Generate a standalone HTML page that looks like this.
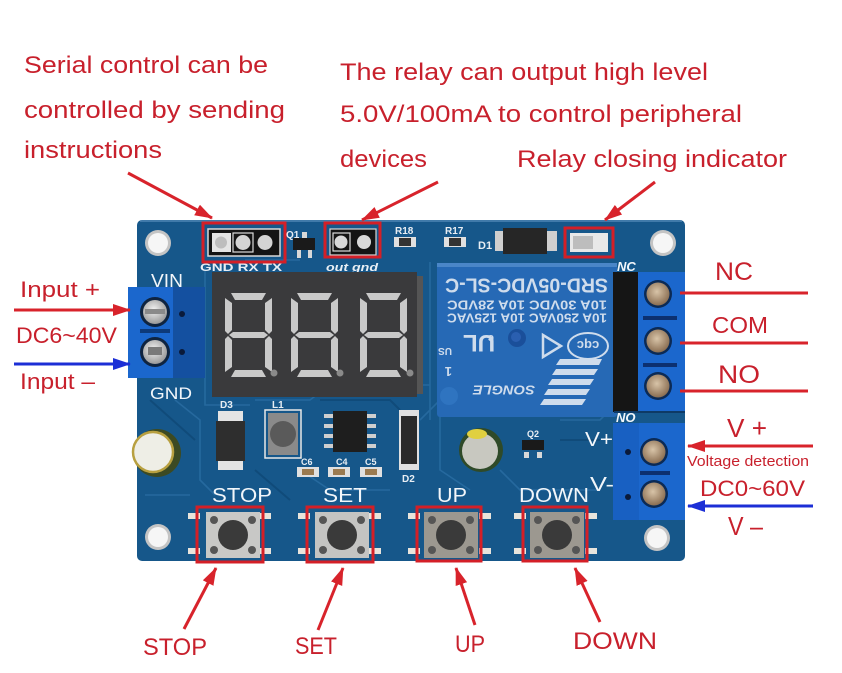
<!DOCTYPE html>
<html><head><meta charset="utf-8">
<style>
html,body{margin:0;padding:0;background:#fff;}
svg{display:block;}
text{font-family:"Liberation Sans",Arial,sans-serif;}
</style></head><body>
<svg width="842" height="673" viewBox="0 0 842 673" xmlns="http://www.w3.org/2000/svg">
<defs>
<marker id="ar" viewBox="0 0 18 12" refX="17" refY="6" markerWidth="18" markerHeight="12" orient="auto" markerUnits="userSpaceOnUse"><path d="M0,0 L18,6 L0,12 z" fill="#d8232b"/></marker>
<marker id="ab" viewBox="0 0 18 12" refX="17" refY="6" markerWidth="18" markerHeight="12" orient="auto" markerUnits="userSpaceOnUse"><path d="M0,0 L18,6 L0,12 z" fill="#1c2fd6"/></marker>
<radialGradient id="scrS" cx="0.45" cy="0.4" r="0.6"><stop offset="0" stop-color="#f2f2f2"/><stop offset="1" stop-color="#9a9a9a"/></radialGradient>
<radialGradient id="scrB" cx="0.45" cy="0.4" r="0.6"><stop offset="0" stop-color="#d8c4a8"/><stop offset="1" stop-color="#8a6e52"/></radialGradient>
<g id="dig" fill="#c9c9c9">
<polygon points="6,0 41,0 37,7 10,7"/>
<polygon points="0,5 7,10 7,37 3,41 0,38"/>
<polygon points="47,5 47,38 44,41 40,37 40,10"/>
<polygon points="8,39 39,39 43,42 39,45 8,45 4,42"/>
<polygon points="0,46 3,43 7,47 7,74 0,79"/>
<polygon points="47,46 47,79 40,74 40,47 44,43"/>
<polygon points="10,77 37,77 41,84 6,84"/>
</g>
<g id="btn">
<rect x="-10" y="6" width="12" height="6" fill="#e8e4dc"/>
<rect x="-10" y="41" width="12" height="6" fill="#e8e4dc"/>
<rect x="61" y="6" width="12" height="6" fill="#e8e4dc"/>
<rect x="61" y="41" width="12" height="6" fill="#e8e4dc"/>
</g>
</defs>

<!-- board -->
<rect x="137" y="220" width="548" height="341" rx="5" fill="#16578a"/>
<line x1="140" y1="221" x2="682" y2="221" stroke="#4f86b4" stroke-width="1.5"/>
<g fill="none" stroke="#2a6ea4" stroke-width="1.6" opacity="0.8">
<path d="M205 262 L205 405 L250 405"/>
<path d="M175 400 L200 420 L200 480 L215 495"/>
<path d="M255 400 L310 400 L330 385 L430 385"/>
<path d="M300 470 L330 490 L390 490"/>
<path d="M420 420 L440 400 L440 470 L470 490"/>
<path d="M500 470 L520 490 L600 490"/>
<path d="M245 260 L300 260"/>
<path d="M430 262 L430 420"/>
<path d="M560 420 L600 420 L610 410"/>
<path d="M145 495 L190 495"/>
</g>
<g fill="none" stroke="#0e4674" stroke-width="2" opacity="0.7">
<path d="M150 400 L195 440"/>
<path d="M320 400 L390 400 L400 410"/>
<path d="M255 470 L290 500"/>
<path d="M560 440 L600 440"/>
</g>

<!-- mounting holes -->
<g>
<circle cx="158" cy="243" r="13" fill="#c4c4c4"/><circle cx="158" cy="243" r="10" fill="#f6f6f6"/>
<circle cx="663" cy="243" r="13" fill="#c4c4c4"/><circle cx="663" cy="243" r="10" fill="#f6f6f6"/>
<circle cx="158" cy="537" r="13" fill="#c4c4c4"/><circle cx="158" cy="537" r="10" fill="#f6f6f6"/>
<circle cx="657" cy="538" r="13" fill="#c4c4c4"/><circle cx="657" cy="538" r="10" fill="#f6f6f6"/>
</g>

<!-- serial header -->
<rect x="208" y="229" width="72" height="27" fill="#141414" stroke="#d8d8d8" stroke-width="1.5"/>
<rect x="212" y="233" width="19" height="19" fill="#e4e4e4"/>
<circle cx="221" cy="242.5" r="6" fill="#bdbdbd"/>
<rect x="233" y="233" width="20" height="19" fill="none" stroke="#dcdcdc" stroke-width="1.2"/>
<circle cx="243" cy="242.5" r="7.5" fill="#d4d4d4"/>
<circle cx="265" cy="242.5" r="7.5" fill="#d4d4d4"/>
<text x="200" y="271" font-size="11" font-weight="bold" fill="#e8eef4" textLength="82" lengthAdjust="spacingAndGlyphs">GND RX TX</text>
<rect x="203" y="223" width="82" height="39" fill="none" stroke="#d41f27" stroke-width="3"/>

<!-- Q1 -->
<text x="286" y="238" font-size="10" font-weight="bold" fill="#e8eef4">Q1</text>
<rect x="293" y="238" width="22" height="12" fill="#1a1a1a"/>
<rect x="297" y="250" width="4" height="8" fill="#d8d8d8"/><rect x="308" y="250" width="4" height="8" fill="#d8d8d8"/>
<rect x="302" y="232" width="5" height="6" fill="#d8d8d8"/>

<!-- out header -->
<rect x="330" y="229" width="46" height="26" fill="#141414" stroke="#d8d8d8" stroke-width="1.2"/>
<rect x="333" y="233" width="17" height="18" fill="none" stroke="#dcdcdc" stroke-width="1.2"/>
<circle cx="341" cy="242" r="6.5" fill="#d8d8d8"/>
<circle cx="364" cy="242" r="7" fill="#d8d8d8"/>
<text x="326" y="271" font-size="11" font-style="italic" font-weight="bold" fill="#e8eef4" textLength="52" lengthAdjust="spacingAndGlyphs">out gnd</text>
<rect x="325" y="223" width="55" height="34" fill="none" stroke="#d41f27" stroke-width="3"/>

<!-- R18 R17 -->
<text x="395" y="234" font-size="10" font-weight="bold" fill="#e8eef4">R18</text>
<rect x="394" y="237" width="22" height="10" fill="#e0e0e0"/><rect x="399" y="238" width="12" height="8" fill="#333"/>
<text x="445" y="234" font-size="10" font-weight="bold" fill="#e8eef4">R17</text>
<rect x="444" y="237" width="22" height="10" fill="#e0e0e0"/><rect x="449" y="238" width="12" height="8" fill="#333"/>
<!-- D1 -->
<text x="478" y="249" font-size="11" font-weight="bold" fill="#e8eef4">D1</text>
<rect x="495" y="231" width="62" height="20" fill="#cfcfcf"/>
<rect x="503" y="228" width="44" height="26" fill="#262626"/>
<!-- LED -->
<rect x="570" y="233" width="38" height="19" fill="#e8e8e8"/>
<rect x="573" y="236" width="20" height="13" fill="#bdbdbd"/>
<rect x="565" y="228" width="48" height="29" fill="none" stroke="#d41f27" stroke-width="3"/>

<!-- left terminal -->
<rect x="170" y="287" width="35" height="91" fill="#1450a0"/>
<rect x="128" y="287" width="45" height="91" fill="#1b67cd"/>
<circle cx="182" cy="314" r="3" fill="#0a1a3a"/><circle cx="182" cy="352" r="3" fill="#0a1a3a"/>
<rect x="140" y="329" width="30" height="4" fill="#0d3a7a"/>
<circle cx="155" cy="312" r="15" fill="#0f2440"/><circle cx="155" cy="312" r="12" fill="url(#scrS)"/>
<rect x="145" y="309" width="20" height="5" fill="#8a8a8a"/>
<circle cx="155" cy="352" r="15" fill="#0f2440"/><circle cx="155" cy="352" r="12" fill="url(#scrS)"/>
<rect x="148" y="347" width="14" height="8" fill="#7a7a7a"/>
<text x="151" y="287" font-size="18" fill="#f2f6fa" textLength="32" lengthAdjust="spacingAndGlyphs">VIN</text>
<text x="150" y="399" font-size="17" fill="#f2f6fa" textLength="42" lengthAdjust="spacingAndGlyphs">GND</text>

<!-- display -->
<rect x="212" y="272" width="205" height="125" fill="#3a3a3c"/>
<rect x="417" y="276" width="6" height="118" fill="#555"/>
<use href="#dig" x="225" y="293"/>
<use href="#dig" x="291" y="293"/>
<use href="#dig" x="360" y="293"/>
<circle cx="274" cy="373" r="3.5" fill="#8a8a8a"/>
<circle cx="340" cy="373" r="3.5" fill="#8a8a8a"/>
<circle cx="410" cy="373" r="3.5" fill="#8a8a8a"/>

<!-- relay -->
<rect x="437" y="263" width="180" height="154" rx="3" fill="#2669b5"/>
<rect x="437" y="263" width="180" height="4" fill="#4a86c8"/>
<circle cx="517" cy="338" r="9" fill="#1a4f9a"/><circle cx="516" cy="337" r="5" fill="#2a5fb0"/>
<circle cx="449" cy="396" r="9" fill="#2f74c0"/>
<g transform="rotate(180 527 340)" fill="#cfdcec" font-weight="bold">
<text x="527.5" y="401.5" font-size="20" text-anchor="middle" textLength="163" lengthAdjust="spacingAndGlyphs">SRD-05VDC-SL-C</text>
<text x="527" y="379.5" font-size="12.5" text-anchor="middle" textLength="160" lengthAdjust="spacingAndGlyphs">10A 30VDC 10A 28VDC</text>
<text x="527" y="366.5" font-size="12.5" text-anchor="middle" textLength="160" lengthAdjust="spacingAndGlyphs">10A 250VAC 10A 125VAC</text>
<text x="550" y="294.5" font-size="13" font-style="italic" font-family="Liberation Serif, serif" text-anchor="middle" textLength="62" lengthAdjust="spacingAndGlyphs">SONGLE</text>
<text x="575" y="345" font-size="24" text-anchor="middle">UL</text>
<text x="560" y="345" font-size="11">c</text>
<text x="602" y="332" font-size="10">US</text>
<text x="602" y="313" font-size="13">1</text>
</g>
<ellipse cx="588" cy="346" rx="20" ry="13" fill="none" stroke="#cfdcec" stroke-width="2"/>
<text x="588" y="351" font-size="13" font-weight="bold" fill="#cfdcec" text-anchor="middle" transform="rotate(180 588 346)">cqc</text>
<polygon points="543,335 543,357 561,346" fill="none" stroke="#cfdcec" stroke-width="2.5"/>
<g fill="#cfdcec">
<polygon points="560,359 602,359 599,365 556,365"/>
<polygon points="556,369 598,369 594,375 552,375"/>
<polygon points="552,379 594,379 590,385 548,385"/>
<polygon points="548,389 590,389 586,395 544,395"/>
<polygon points="544,399 586,399 582,405 540,405"/>
</g>

<!-- relay terminal -->
<rect x="613" y="272" width="30" height="140" fill="#151515"/>
<rect x="638" y="272" width="47" height="140" fill="#1b67cd"/>
<rect x="643" y="316" width="34" height="4" fill="#0c3070"/>
<rect x="643" y="363" width="34" height="4" fill="#0c3070"/>
<circle cx="658" cy="294" r="14" fill="#0b2a55"/><circle cx="658" cy="294" r="11.5" fill="url(#scrB)"/>
<circle cx="658" cy="341" r="14" fill="#0b2a55"/><circle cx="658" cy="341" r="11.5" fill="url(#scrB)"/>
<circle cx="658" cy="386" r="14" fill="#0b2a55"/><circle cx="658" cy="386" r="11.5" fill="url(#scrB)"/>
<text x="617" y="271" font-size="13" font-style="italic" font-weight="bold" fill="#f2f6fa">NC</text>
<text x="616" y="422" font-size="13" font-style="italic" font-weight="bold" fill="#f2f6fa">NO</text>
<line x1="614" y1="412" x2="685" y2="412" stroke="#0e3a66" stroke-width="2"/>

<!-- voltage terminal -->
<rect x="613" y="423" width="72" height="97" fill="#1b67cd"/>
<rect x="613" y="423" width="26" height="97" fill="#1860c2"/>
<circle cx="628" cy="452" r="3" fill="#0a1a3a"/><circle cx="628" cy="497" r="3" fill="#0a1a3a"/>
<rect x="640" y="471" width="30" height="4" fill="#0c3070"/>
<circle cx="654" cy="452" r="14" fill="#0b2a55"/><circle cx="654" cy="452" r="11.5" fill="url(#scrB)"/>
<circle cx="654" cy="494" r="14" fill="#0b2a55"/><circle cx="654" cy="494" r="11.5" fill="url(#scrB)"/>
<text x="585" y="446" font-size="20" fill="#f2f6fa" textLength="28" lengthAdjust="spacingAndGlyphs">V+</text>
<text x="590" y="491" font-size="20" fill="#f2f6fa" textLength="24" lengthAdjust="spacingAndGlyphs">V-</text>

<!-- lower components -->
<circle cx="157" cy="453" r="24" fill="#3c4a22"/>
<circle cx="153" cy="452" r="20" fill="#eeeee6" stroke="#b8a040" stroke-width="2.5"/>
<text x="220" y="408" font-size="10" font-weight="bold" fill="#e8eef4">D3</text>
<rect x="218" y="411" width="25" height="12" fill="#e4e4e4"/>
<rect x="218" y="459" width="25" height="11" fill="#e4e4e4"/>
<rect x="216" y="421" width="29" height="40" fill="#2e2e2e"/>
<text x="272" y="408" font-size="10" font-weight="bold" fill="#e8eef4">L1</text>
<rect x="265" y="410" width="36" height="48" fill="none" stroke="#e8e8e8" stroke-width="1.5"/>
<rect x="268" y="413" width="30" height="42" fill="#8a8a8a"/>
<circle cx="283" cy="434" r="13" fill="#5a5a5a"/>
<g fill="#cfcfcf">
<rect x="324" y="414" width="9" height="4"/><rect x="324" y="424" width="9" height="4"/><rect x="324" y="434" width="9" height="4"/><rect x="324" y="444" width="9" height="4"/>
<rect x="367" y="414" width="9" height="4"/><rect x="367" y="424" width="9" height="4"/><rect x="367" y="434" width="9" height="4"/><rect x="367" y="444" width="9" height="4"/>
</g>
<rect x="333" y="411" width="34" height="41" fill="#1e1e1e"/>
<text x="301" y="465" font-size="9" font-weight="bold" fill="#e8eef4">C6</text>
<text x="336" y="465" font-size="9" font-weight="bold" fill="#e8eef4">C4</text>
<text x="365" y="465" font-size="9" font-weight="bold" fill="#e8eef4">C5</text>
<g fill="#e0e0e0">
<rect x="297" y="467" width="22" height="10"/><rect x="328" y="467" width="22" height="10"/><rect x="360" y="467" width="22" height="10"/>
</g>
<g fill="#9a7a50">
<rect x="302" y="469" width="12" height="6"/><rect x="333" y="469" width="12" height="6"/><rect x="365" y="469" width="12" height="6"/>
</g>
<rect x="399" y="410" width="20" height="60" fill="#e0e0e0"/>
<rect x="401" y="416" width="16" height="48" fill="#2a2a2a"/>
<text x="402" y="482" font-size="10" font-weight="bold" fill="#e8eef4">D2</text>
<circle cx="481" cy="450" r="22" fill="#2f4a28"/>
<circle cx="480" cy="451" r="18" fill="#c8c8c0"/>
<ellipse cx="477" cy="434" rx="10" ry="5" fill="#e0d040"/>
<text x="527" y="437" font-size="9" font-weight="bold" fill="#e8eef4">Q2</text>
<rect x="522" y="440" width="22" height="10" fill="#1a1a1a"/>
<rect x="524" y="452" width="5" height="6" fill="#d8d8d8"/><rect x="537" y="452" width="5" height="6" fill="#d8d8d8"/>

<!-- button labels on board -->
<text x="212" y="502" font-size="20" fill="#f2f6fa" textLength="60" lengthAdjust="spacingAndGlyphs">STOP</text>
<text x="323" y="502" font-size="20" fill="#f2f6fa" textLength="44" lengthAdjust="spacingAndGlyphs">SET</text>
<text x="437" y="502" font-size="20" fill="#f2f6fa" textLength="30" lengthAdjust="spacingAndGlyphs">UP</text>
<text x="519" y="502" font-size="20" fill="#f2f6fa" textLength="70" lengthAdjust="spacingAndGlyphs">DOWN</text>

<!-- buttons -->
<g>
<use href="#btn" x="198" y="507"/>
<rect x="206" y="512" width="54" height="46" fill="#c8c8c6"/>
<circle cx="233" cy="535" r="15" fill="#3a3a3a"/>
<g fill="#555"><circle cx="214" cy="520" r="4"/><circle cx="252" cy="520" r="4"/><circle cx="214" cy="550" r="4"/><circle cx="252" cy="550" r="4"/></g>
<rect x="197" y="507" width="66" height="55" fill="none" stroke="#d41f27" stroke-width="3"/>
</g>
<g>
<use href="#btn" x="308" y="507"/>
<rect x="315" y="512" width="54" height="46" fill="#c4c4c2"/>
<circle cx="342" cy="535" r="15" fill="#3a3a3a"/>
<g fill="#555"><circle cx="323" cy="520" r="4"/><circle cx="361" cy="520" r="4"/><circle cx="323" cy="550" r="4"/><circle cx="361" cy="550" r="4"/></g>
<rect x="307" y="507" width="66" height="55" fill="none" stroke="#d41f27" stroke-width="3"/>
</g>
<g>
<use href="#btn" x="418" y="507"/>
<rect x="424" y="512" width="54" height="46" fill="#9c9890"/>
<circle cx="451" cy="535" r="15" fill="#3a3a3a"/>
<g fill="#555"><circle cx="432" cy="520" r="4"/><circle cx="470" cy="520" r="4"/><circle cx="432" cy="550" r="4"/><circle cx="470" cy="550" r="4"/></g>
<rect x="417" y="507" width="64" height="54" fill="none" stroke="#d41f27" stroke-width="3"/>
</g>
<g>
<use href="#btn" x="524" y="507"/>
<rect x="530" y="512" width="54" height="46" fill="#9c9890"/>
<circle cx="557" cy="535" r="15" fill="#3a3a3a"/>
<g fill="#555"><circle cx="538" cy="520" r="4"/><circle cx="576" cy="520" r="4"/><circle cx="538" cy="550" r="4"/><circle cx="576" cy="550" r="4"/></g>
<rect x="523" y="507" width="64" height="54" fill="none" stroke="#d41f27" stroke-width="3"/>
</g>

<!-- annotation text -->
<g fill="#c8202c">
<text x="24" y="73" font-size="24" textLength="244" lengthAdjust="spacingAndGlyphs">Serial control can be</text>
<text x="24" y="118" font-size="24" textLength="261" lengthAdjust="spacingAndGlyphs">controlled by sending</text>
<text x="24" y="158" font-size="24" textLength="138" lengthAdjust="spacingAndGlyphs">instructions</text>
<text x="340" y="80" font-size="24" textLength="368" lengthAdjust="spacingAndGlyphs">The relay can output high level</text>
<text x="340" y="122" font-size="24" textLength="402" lengthAdjust="spacingAndGlyphs">5.0V/100mA to control peripheral</text>
<text x="340" y="167" font-size="24" textLength="87" lengthAdjust="spacingAndGlyphs">devices</text>
<text x="517" y="167" font-size="24" textLength="270" lengthAdjust="spacingAndGlyphs">Relay closing indicator</text>

<text x="20" y="297" font-size="22" textLength="80" lengthAdjust="spacingAndGlyphs">Input +</text>
<text x="16" y="343" font-size="22" textLength="101" lengthAdjust="spacingAndGlyphs">DC6~40V</text>
<text x="20" y="389" font-size="22" textLength="75" lengthAdjust="spacingAndGlyphs">Input –</text>

<text x="715" y="280" font-size="25" textLength="38" lengthAdjust="spacingAndGlyphs">NC</text>
<text x="712" y="333" font-size="23" textLength="56" lengthAdjust="spacingAndGlyphs">COM</text>
<text x="718" y="383" font-size="25" textLength="42" lengthAdjust="spacingAndGlyphs">NO</text>
<text x="727" y="437" font-size="26" textLength="40" lengthAdjust="spacingAndGlyphs">V +</text>
<text x="687" y="466" font-size="15" textLength="122" lengthAdjust="spacingAndGlyphs">Voltage detection</text>
<text x="700" y="496" font-size="22" textLength="105" lengthAdjust="spacingAndGlyphs">DC0~60V</text>
<text x="728" y="535" font-size="26" textLength="35" lengthAdjust="spacingAndGlyphs">V –</text>

<text x="143" y="655" font-size="24" textLength="64" lengthAdjust="spacingAndGlyphs">STOP</text>
<text x="295" y="654" font-size="24" textLength="42" lengthAdjust="spacingAndGlyphs">SET</text>
<text x="455" y="652" font-size="24" textLength="30" lengthAdjust="spacingAndGlyphs">UP</text>
<text x="573" y="649" font-size="24" textLength="84" lengthAdjust="spacingAndGlyphs">DOWN</text>
</g>

<!-- lines & arrows -->
<g stroke="#d8232b" stroke-width="3" fill="none">
<line x1="680" y1="293" x2="808" y2="293"/>
<line x1="680" y1="343" x2="808" y2="343"/>
<line x1="680" y1="391" x2="808" y2="391"/>
<line x1="813" y1="446" x2="688" y2="446" marker-end="url(#ar)"/>
<line x1="14" y1="310" x2="130" y2="310" marker-end="url(#ar)"/>
<line x1="128" y1="173" x2="212" y2="218" marker-end="url(#ar)"/>
<line x1="438" y1="182" x2="362" y2="220" marker-end="url(#ar)"/>
<line x1="655" y1="182" x2="605" y2="220" marker-end="url(#ar)"/>
<line x1="184" y1="629" x2="216" y2="568" marker-end="url(#ar)"/>
<line x1="318" y1="630" x2="343" y2="568" marker-end="url(#ar)"/>
<line x1="475" y1="625" x2="456" y2="568" marker-end="url(#ar)"/>
<line x1="600" y1="622" x2="575" y2="568" marker-end="url(#ar)"/>
</g>
<g stroke="#1c2fd6" stroke-width="3" fill="none">
<line x1="14" y1="364" x2="130" y2="364" marker-end="url(#ab)"/>
<line x1="813" y1="506" x2="688" y2="506" marker-end="url(#ab)"/>
</g>
</svg>
</body></html>
